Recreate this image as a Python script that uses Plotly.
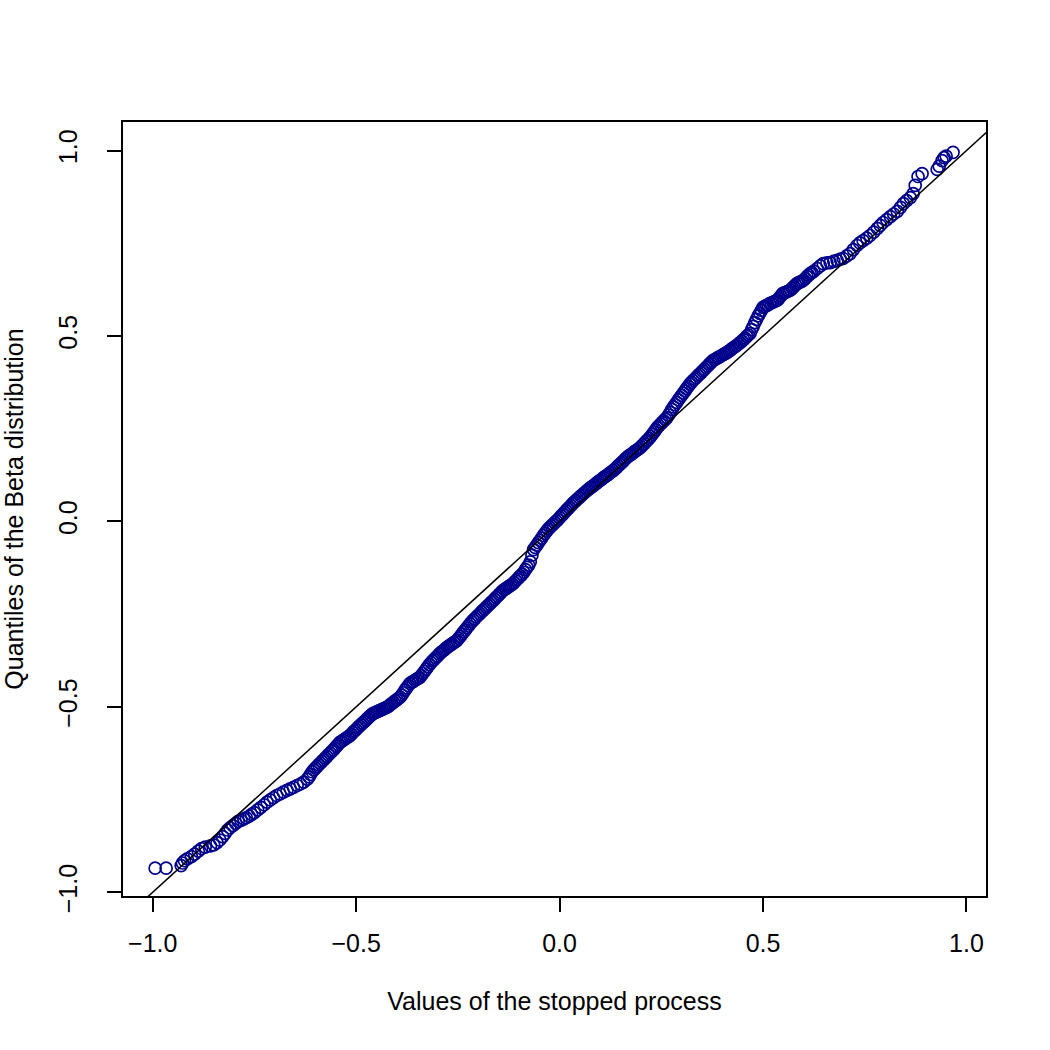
import plotly.graph_objects as go

# Sorted values of the stopped process (x)
process_values = [
    # lower tail
    -0.994, -0.967, -0.930, -0.927, -0.922, -0.915, -0.905, -0.897, -0.888, -0.880,
    -0.871, -0.858, -0.850, -0.842, -0.835, -0.828, -0.822, -0.816, -0.810, -0.803,
    -0.796, -0.790, -0.783, -0.776, -0.770, -0.763, -0.757, -0.750,
    -0.742, -0.734, -0.726, -0.719, -0.711, -0.703, -0.695, -0.687, -0.679, -0.670,
    -0.662, -0.654, -0.645, -0.637, -0.629,
    # dense centre
    -0.620, -0.616, -0.612, -0.608, -0.604, -0.600, -0.596, -0.592, -0.588, -0.584,
    -0.580, -0.576, -0.572, -0.568, -0.564, -0.560, -0.556, -0.552, -0.548, -0.544,
    -0.540, -0.536, -0.532, -0.528, -0.524, -0.520, -0.516, -0.512, -0.508, -0.504,
    -0.500, -0.496, -0.492, -0.488, -0.484, -0.480, -0.476, -0.472, -0.468, -0.464,
    -0.460, -0.456, -0.452, -0.448, -0.444, -0.440, -0.436, -0.432, -0.428, -0.424,
    -0.420, -0.416, -0.412, -0.408, -0.404, -0.400, -0.396, -0.392, -0.388, -0.384,
    -0.380, -0.376, -0.372, -0.368, -0.364, -0.360, -0.356, -0.352, -0.348, -0.344,
    -0.340, -0.336, -0.332, -0.328, -0.324, -0.320, -0.316, -0.312, -0.308, -0.304,
    -0.300, -0.296, -0.292, -0.288, -0.284, -0.280, -0.276, -0.272, -0.268, -0.264,
    -0.260, -0.256, -0.252, -0.248, -0.244, -0.240, -0.236, -0.232, -0.228, -0.224,
    -0.220, -0.216, -0.212, -0.208, -0.204, -0.200, -0.196, -0.192, -0.188, -0.184,
    -0.180, -0.176, -0.172, -0.168, -0.164, -0.160, -0.156, -0.152, -0.148, -0.144,
    -0.140, -0.136, -0.132, -0.128, -0.124, -0.120, -0.116, -0.112, -0.108, -0.104,
    -0.100, -0.096, -0.092, -0.088, -0.084, -0.080, -0.076, -0.072, -0.068, -0.064,
    -0.060, -0.056, -0.052, -0.048, -0.044, -0.040, -0.036, -0.032, -0.028, -0.024,
    -0.020, -0.016, -0.012, -0.008, -0.004, 0.000, 0.004, 0.008, 0.012, 0.016,
    0.020, 0.024, 0.028, 0.032, 0.036, 0.040, 0.044, 0.048, 0.052, 0.056,
    0.060, 0.064, 0.068, 0.072, 0.076, 0.080, 0.084, 0.088, 0.092, 0.096,
    0.100, 0.104, 0.108, 0.112, 0.116, 0.120, 0.124, 0.128, 0.132, 0.136,
    0.140, 0.144, 0.148, 0.152, 0.156, 0.160, 0.164, 0.168, 0.172, 0.176,
    0.180, 0.184, 0.188, 0.192, 0.196, 0.200, 0.204, 0.208, 0.212, 0.216,
    0.220, 0.224, 0.228, 0.232, 0.236, 0.240, 0.244, 0.248, 0.252, 0.256,
    0.260, 0.264, 0.268, 0.272, 0.276, 0.280, 0.284, 0.288, 0.292, 0.296,
    0.300, 0.304, 0.308, 0.312, 0.316, 0.320, 0.324, 0.328, 0.332, 0.336,
    0.340, 0.344, 0.348, 0.352, 0.356, 0.360, 0.364, 0.368, 0.372, 0.376,
    0.380, 0.384, 0.388, 0.392, 0.396, 0.400, 0.404, 0.408, 0.412, 0.416,
    0.420, 0.424, 0.428, 0.432, 0.436, 0.440, 0.444, 0.448, 0.452, 0.456,
    0.460, 0.464, 0.468, 0.472, 0.476, 0.480, 0.484, 0.488, 0.492, 0.496,
    0.500, 0.504, 0.508, 0.512, 0.516, 0.520, 0.524, 0.528, 0.532, 0.536,
    0.540, 0.544, 0.548, 0.552, 0.556, 0.560, 0.564, 0.568, 0.572, 0.576,
    0.580, 0.584, 0.588, 0.592, 0.596, 0.600, 0.604, 0.608, 0.612, 0.616,
    0.620,
    # upper tail
    0.625, 0.633, 0.641, 0.648, 0.657, 0.665, 0.674, 0.682, 0.690, 0.697,
    0.706, 0.714, 0.722, 0.731, 0.738, 0.746, 0.755, 0.763, 0.772, 0.781,
    0.788, 0.795, 0.804, 0.813, 0.821, 0.830, 0.838, 0.845, 0.853, 0.862,
    0.869, 0.874, 0.881, 0.891, 0.928, 0.933, 0.940, 0.945, 0.950, 0.967,
]

# Matching quantiles of the Beta distribution (y)
beta_quantiles = [
    # lower tail
    -0.935, -0.935, -0.928, -0.921, -0.915, -0.910, -0.904, -0.897, -0.889, -0.882,
    -0.878, -0.875, -0.872, -0.866, -0.859, -0.850, -0.841, -0.832, -0.826, -0.820,
    -0.814, -0.809, -0.806, -0.802, -0.799, -0.795, -0.790, -0.785,
    -0.778, -0.771, -0.764, -0.757, -0.751, -0.745, -0.739, -0.735, -0.730, -0.725,
    -0.721, -0.717, -0.712, -0.708, -0.703,
    # dense centre
    -0.695, -0.689, -0.682, -0.675, -0.670, -0.665, -0.661, -0.656, -0.652, -0.647,
    -0.643, -0.638, -0.634, -0.629, -0.625, -0.620, -0.616, -0.611, -0.606, -0.601,
    -0.596, -0.593, -0.590, -0.587, -0.584, -0.581, -0.578, -0.574, -0.569, -0.565,
    -0.561, -0.556, -0.552, -0.548, -0.544, -0.540, -0.536, -0.531, -0.527, -0.523,
    -0.519, -0.517, -0.515, -0.513, -0.511, -0.509, -0.507, -0.505, -0.503, -0.501,
    -0.498, -0.494, -0.491, -0.487, -0.484, -0.481, -0.477, -0.474, -0.468, -0.462,
    -0.455, -0.449, -0.443, -0.437, -0.434, -0.432, -0.429, -0.426, -0.423, -0.421,
    -0.416, -0.410, -0.404, -0.398, -0.392, -0.386, -0.381, -0.376, -0.372, -0.367,
    -0.363, -0.358, -0.354, -0.350, -0.347, -0.343, -0.339, -0.336, -0.333, -0.330,
    -0.327, -0.324, -0.321, -0.315, -0.310, -0.304, -0.298, -0.293, -0.287, -0.282,
    -0.276, -0.271, -0.266, -0.262, -0.257, -0.253, -0.249, -0.244, -0.240, -0.236,
    -0.231, -0.227, -0.223, -0.218, -0.214, -0.210, -0.205, -0.201, -0.196, -0.192,
    -0.187, -0.184, -0.181, -0.178, -0.175, -0.172, -0.169, -0.165, -0.160, -0.156,
    -0.151, -0.147, -0.142, -0.137, -0.130, -0.124, -0.118, -0.109, -0.091, -0.076,
    -0.070, -0.064, -0.057, -0.051, -0.045, -0.038, -0.032, -0.026, -0.021, -0.016,
    -0.012, -0.008, -0.003, 0.001, 0.005, 0.010, 0.015, 0.019, 0.024, 0.029,
    0.034, 0.038, 0.043, 0.048, 0.052, 0.056, 0.060, 0.064, 0.068, 0.072,
    0.076, 0.080, 0.084, 0.087, 0.091, 0.094, 0.097, 0.101, 0.104, 0.108,
    0.111, 0.114, 0.118, 0.121, 0.124, 0.127, 0.131, 0.134, 0.137, 0.141,
    0.145, 0.150, 0.154, 0.158, 0.162, 0.167, 0.171, 0.175, 0.178, 0.181,
    0.184, 0.188, 0.191, 0.194, 0.197, 0.201, 0.206, 0.210, 0.215, 0.219,
    0.224, 0.229, 0.235, 0.241, 0.247, 0.253, 0.258, 0.262, 0.267, 0.271,
    0.276, 0.280, 0.287, 0.294, 0.302, 0.309, 0.315, 0.321, 0.328, 0.334,
    0.340, 0.346, 0.352, 0.358, 0.364, 0.370, 0.375, 0.380, 0.384, 0.388,
    0.393, 0.397, 0.401, 0.406, 0.410, 0.415, 0.419, 0.424, 0.428, 0.433,
    0.436, 0.438, 0.441, 0.443, 0.446, 0.448, 0.451, 0.453, 0.456, 0.459,
    0.462, 0.466, 0.469, 0.472, 0.475, 0.479, 0.482, 0.486, 0.490, 0.494,
    0.499, 0.503, 0.507, 0.517, 0.526, 0.536, 0.545, 0.554, 0.561, 0.569,
    0.577, 0.579, 0.582, 0.584, 0.587, 0.589, 0.591, 0.593, 0.595, 0.597,
    0.603, 0.608, 0.614, 0.616, 0.618, 0.620, 0.622, 0.624, 0.629, 0.633,
    0.638, 0.642, 0.644, 0.646, 0.648, 0.651, 0.655, 0.660, 0.664, 0.668,
    0.671,
    # upper tail
    0.675, 0.682, 0.689, 0.695, 0.697, 0.698, 0.701, 0.704, 0.707, 0.709,
    0.716, 0.722, 0.733, 0.744, 0.751, 0.757, 0.764, 0.771, 0.780, 0.790,
    0.798, 0.806, 0.814, 0.822, 0.829, 0.836, 0.847, 0.857, 0.865, 0.873,
    0.884, 0.906, 0.930, 0.938, 0.949, 0.958, 0.973, 0.981, 0.985, 0.995,
]

tick_values = [-1.0, -0.5, 0.0, 0.5, 1.0]
tick_labels = ["\u22121.0", "\u22120.5", "0.0", "0.5", "1.0"]

x_range = [-1.073, 1.048]
y_range = [-1.010, 1.077]

# reference line y = intercept + slope * x (abline(0, 1))
intercept, slope = 0.0, 1.0
line_x = [x_range[0] - 0.1, x_range[1] + 0.1]
line_y = [intercept + slope * v for v in line_x]

FONT = "Liberation Sans, Arial, Helvetica, sans-serif"
FONT_SIZE = 25
POINT_COLOR = "#00008B"

fig = go.Figure()
fig.add_trace(go.Scatter(
    x=process_values, y=beta_quantiles, mode="markers",
    marker=dict(symbol="circle-open", size=12, color=POINT_COLOR,
                line=dict(width=1.7, color=POINT_COLOR)),
    showlegend=False, hoverinfo="x+y",
))
fig.add_trace(go.Scatter(
    x=line_x, y=line_y, mode="lines",
    line=dict(color="black", width=1.5),
    showlegend=False, hoverinfo="skip",
))

axis_common = dict(
    tickmode="array", tickvals=tick_values, ticktext=tick_labels,
    ticks="outside", ticklen=14, tickwidth=1.5, tickcolor="black",
    showline=True, linecolor="black", linewidth=1.5, mirror=True,
    showgrid=False, zeroline=False, automargin=False,
    tickfont=dict(family=FONT, size=FONT_SIZE, color="black"),
)

fig.update_layout(
    width=1050, height=1050,
    margin=dict(l=123, r=64, t=122, b=154),
    paper_bgcolor="white", plot_bgcolor="white",
    font=dict(family=FONT, size=FONT_SIZE, color="black"),
    xaxis=dict(range=x_range, ticklabelstandoff=10,
               title=dict(text="Values of the stopped process", standoff=37,
                          font=dict(family=FONT, size=FONT_SIZE, color="black")),
               **axis_common),
    yaxis=dict(range=y_range, tickangle=-90, ticklabelstandoff=20,
               title=dict(text="Quantiles of the Beta distribution", standoff=24,
                          font=dict(family=FONT, size=FONT_SIZE, color="black")),
               **axis_common),
)

fig.write_html("out.html")
